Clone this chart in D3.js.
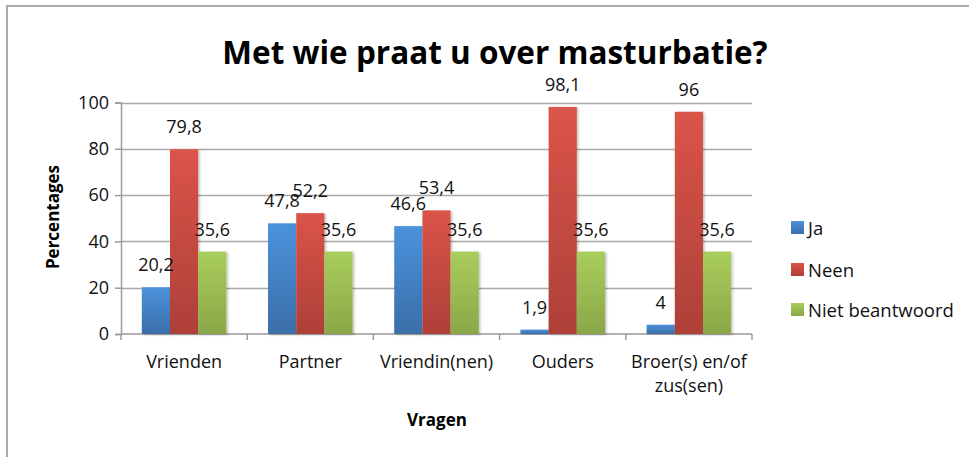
<!DOCTYPE html>
<html>
<head>
<meta charset="utf-8">
<script src="https://cdn.jsdelivr.net/npm/d3@7"></script>
<style>
  html, body { margin: 0; padding: 0; background: #fff; }
  svg { display: block; font-family: 'Open Sans', sans-serif; }
</style>
</head>
<body>
<div id="chart"></div>
<script>
const categories = ['Vrienden', 'Partner', 'Vriendin(nen)', 'Ouders', 'Broer(s) en/of zus(sen)'];
const seriesNames = ['Ja', 'Neen', 'Niet beantwoord'];
const ja = [20.2, 47.8, 46.6, 1.9, 4];
const neen = [79.8, 52.2, 53.4, 98.1, 96];
const nietBeantwoord = [35.6, 35.6, 35.6, 35.6, 35.6];
const yTicks = [0, 20, 40, 60, 80, 100];

const color = {
  grid: '#a9a9a9',
  axis: '#9a9a9a',
  text: '#111111',
  frame: '#aaaaaa',
  bars: [
    ['#4b92dc', '#3a6ea8'],
    ['#db5449', '#ad4038'],
    ['#a9ce5c', '#8aa748']
  ]
};

const W = 969, H = 457;
const plot = { left: 121, right: 752, top: 102.5, bottom: 334 };

const svg = d3.select('#chart')
  .append('svg')
  .attr('width', W)
  .attr('height', H);

// gradients for Excel-like bars
const defs = svg.append('defs');
color.bars.forEach((c, i) => {
  const g = defs.append('linearGradient')
    .attr('id', `grad${i}`)
    .attr('x1', 0).attr('y1', 0).attr('x2', 0).attr('y2', 1);
  g.append('stop').attr('offset', '0%').attr('stop-color', c[0]);
  g.append('stop').attr('offset', '100%').attr('stop-color', c[1]);
});
const shadow = defs.append('filter').attr('id', 'shadow')
  .attr('x', '-20%').attr('y', '-5%').attr('width', '150%').attr('height', '115%');
shadow.append('feDropShadow')
  .attr('dx', 1.5).attr('dy', 1).attr('stdDeviation', 1.2)
  .attr('flood-color', '#000').attr('flood-opacity', 0.25);

// outer frame
svg.append('rect')
  .attr('x', 7).attr('y', 6)
  .attr('width', W + 20).attr('height', H + 20)
  .attr('fill', 'none')
  .attr('stroke', color.frame)
  .attr('stroke-width', 2);

// title
svg.append('text')
  .attr('x', 495).attr('y', 64)
  .attr('text-anchor', 'middle')
  .style('font-size', '31.5px')
  .style('font-weight', 700)
  .attr('fill', '#000')
  .text('Met wie praat u over masturbatie?');

// scales
const y = d3.scaleLinear()
  .domain([0, 100])
  .range([plot.bottom, plot.top]);

const x0 = d3.scaleBand()
  .domain(categories)
  .range([plot.left, plot.right])
  .paddingInner(0.33)
  .paddingOuter(0.165);

const x1 = d3.scaleBand()
  .domain(seriesNames)
  .range([0, x0.bandwidth()]);

const step = x0.step();

// gridlines
svg.append('g')
  .selectAll('line')
  .data(yTicks.filter((t) => t > 0))
  .enter()
  .append('line')
  .attr('x1', plot.left).attr('x2', plot.right)
  .attr('y1', (d) => Math.round(y(d)) + 0.5)
  .attr('y2', (d) => Math.round(y(d)) + 0.5)
  .attr('stroke', color.grid)
  .attr('stroke-width', 1.5);

// y axis
const yAxis = svg.append('g')
  .attr('transform', `translate(${plot.left}, 0)`)
  .call(d3.axisLeft(y).tickValues(yTicks).tickSize(6).tickPadding(6).tickFormat(d3.format('d')));
yAxis.select('.domain').attr('stroke', color.axis).attr('stroke-width', 1.5);
yAxis.selectAll('.tick line').attr('stroke', color.axis).attr('stroke-width', 1.5);
yAxis.selectAll('.tick text')
  .attr('fill', color.text)
  .style('font-size', '18px')
  .style('font-family', "'Open Sans', sans-serif");

// x axis line + ticks at category boundaries
const xAxis = svg.append('g');
xAxis.append('line')
  .attr('x1', plot.left).attr('x2', plot.right)
  .attr('y1', plot.bottom).attr('y2', plot.bottom)
  .attr('stroke', color.axis)
  .attr('stroke-width', 1.5);
xAxis.selectAll('.xtick')
  .data(d3.range(categories.length + 1))
  .enter()
  .append('line')
  .attr('x1', (i) => plot.left + i * step)
  .attr('x2', (i) => plot.left + i * step)
  .attr('y1', plot.bottom).attr('y2', plot.bottom + 6)
  .attr('stroke', color.axis)
  .attr('stroke-width', 1.5);

// category labels (wrapped like Excel)
const wrapLines = {
  'Broer(s) en/of zus(sen)': ['Broer(s) en/of', 'zus(sen)']
};
categories.forEach((c) => {
  const lines = wrapLines[c] || [c];
  const t = xAxis.append('text')
    .attr('x', x0(c) + x0.bandwidth() / 2)
    .attr('y', 368)
    .attr('text-anchor', 'middle')
    .attr('fill', color.text)
    .style('font-size', '18px');
  lines.forEach((l, i) => {
    t.append('tspan')
      .attr('x', x0(c) + x0.bandwidth() / 2)
      .attr('dy', i === 0 ? 0 : 24)
      .text(l);
  });
});

// bars
const seriesValues = [ja, neen, nietBeantwoord];
const rows = [];
categories.forEach((c, ci) => {
  seriesNames.forEach((s, si) => {
    rows.push({ cat: c, series: s, si: si, value: seriesValues[si][ci] });
  });
});

svg.append('g')
  .selectAll('rect')
  .data(rows)
  .enter()
  .append('rect')
  .attr('x', (d) => x0(d.cat) + x1(d.series))
  .attr('y', (d) => y(d.value))
  .attr('width', x1.bandwidth())
  .attr('height', (d) => y(0) - y(d.value))
  .attr('fill', (d) => `url(#grad${d.si})`)
  .attr('filter', 'url(#shadow)');

// data labels
const fmt = (v) => String(v).replace('.', ',');
svg.append('g')
  .selectAll('text')
  .data(rows)
  .enter()
  .append('text')
  .attr('x', (d) => x0(d.cat) + x1(d.series) + x1.bandwidth() / 2)
  .attr('y', (d) => y(d.value) - 16)
  .attr('text-anchor', 'middle')
  .attr('fill', color.text)
  .style('font-size', '18px')
  .text((d) => fmt(d.value));

// axis titles
svg.append('text')
  .attr('transform', 'translate(59, 217) rotate(-90)')
  .attr('text-anchor', 'middle')
  .style('font-size', '17px')
  .style('font-weight', 700)
  .attr('fill', '#000')
  .text('Percentages');

svg.append('text')
  .attr('x', 437).attr('y', 426)
  .attr('text-anchor', 'middle')
  .style('font-size', '17px')
  .style('font-weight', 700)
  .attr('fill', '#000')
  .text('Vragen');

// legend
const legendY = [228, 270, 310];
const legend = svg.append('g');
seriesNames.forEach((s, i) => {
  legend.append('rect')
    .attr('x', 791).attr('y', legendY[i] - 7)
    .attr('width', 13).attr('height', 13)
    .attr('fill', `url(#grad${i})`);
  legend.append('text')
    .attr('x', 808).attr('y', legendY[i] + 6.5)
    .attr('fill', color.text)
    .style('font-size', '18.5px')
    .text(s);
});
</script>
</body>
</html>
